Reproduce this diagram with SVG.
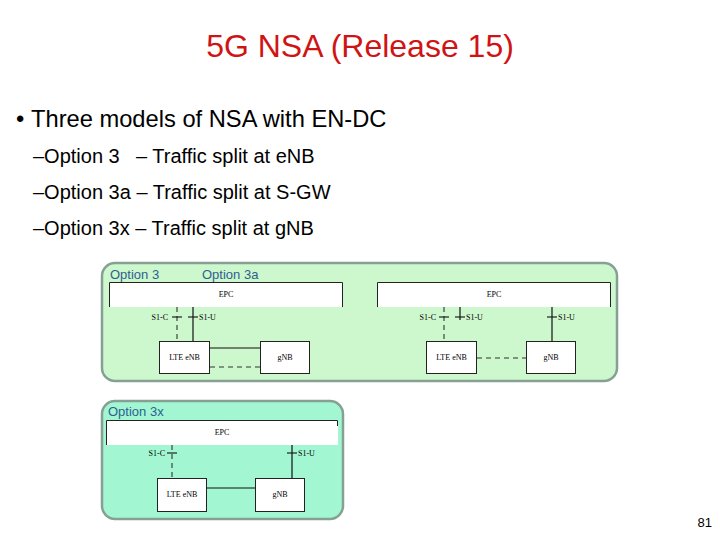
<svg xmlns="http://www.w3.org/2000/svg" width="720" height="540" viewBox="0 0 720 540">
<defs>
<style>
.title{font-family:"Liberation Sans",Arial,sans-serif;font-size:32px;fill:#d01414}
.body{font-family:"Liberation Sans",Arial,sans-serif;fill:#000}
.opt{font-family:"Liberation Sans",Arial,sans-serif;font-size:13px;fill:#2e6190}
.small{font-family:"Liberation Serif","Times New Roman",serif;font-size:8px;fill:#000}
.panelA{fill:#cdf7cd;stroke:#86a094;stroke-width:2.5}
.panelB{fill:#a2f6d2;stroke:#86a094;stroke-width:2.5}
.epc{fill:#fff}
.epcEdge{fill:none;stroke:#222;stroke-width:1}
.box{fill:#fff;stroke:#222;stroke-width:1}
.solid{stroke:#111;stroke-width:1.2;fill:none}
.dash{stroke:#333;stroke-width:1.1;stroke-dasharray:5 4;fill:none}
.tick{stroke:#111;stroke-width:1.1}
</style>
</defs>
<rect width="720" height="540" fill="#fff"/>

<text class="title" x="360" y="57" text-anchor="middle">5G NSA (Release 15)</text>
<text class="body" x="16" y="127" font-size="23.7">•</text>
<text class="body" x="31" y="127" font-size="23.7">Three models of NSA with EN-DC</text>
<text class="body" x="33" y="163" font-size="20">–Option 3<tspan x="136">– Traffic split at eNB</tspan></text>
<text class="body" x="33" y="199" font-size="20">–Option 3a – Traffic split at S-GW</text>
<text class="body" x="33" y="235" font-size="20">–Option 3x – Traffic split at gNB</text>
<text class="body" x="712" y="527" font-size="13" text-anchor="end">81</text>

<g id="panel-option3-3a">
<rect class="panelA" x="102" y="263" width="515" height="118" rx="13"/>
<text class="opt" x="110" y="279">Option 3</text>
<text class="opt" x="202" y="279">Option 3a</text>
</g>
<g id="panel-option3x">
<rect class="panelB" x="102" y="401" width="241" height="118" rx="13"/>
<text class="opt" x="108" y="416">Option 3x</text>
</g>

<g id="epc-1">
<rect class="epc" x="109" y="282" width="234" height="25"/>
<path class="epcEdge" d="M109.5,307 V282.5 H342.5 V307"/>
<text class="small" x="226" y="297" text-anchor="middle">EPC</text>
</g>
<g id="lte-enb-1">
<rect class="box" x="159.5" y="341.5" width="50" height="32"/>
<text class="small" x="184.5" y="360" text-anchor="middle">LTE eNB</text>
</g>
<g id="gnb-1">
<rect class="box" x="260.5" y="341.5" width="49" height="32"/>
<text class="small" x="285" y="360" text-anchor="middle">gNB</text>
</g>

<g id="epc-2">
<rect class="epc" x="377" y="282" width="234" height="25"/>
<path class="epcEdge" d="M377.5,307 V282.5 H610.5 V307"/>
<text class="small" x="494" y="297" text-anchor="middle">EPC</text>
</g>
<g id="lte-enb-2">
<rect class="box" x="426.5" y="341.5" width="50" height="32"/>
<text class="small" x="451.5" y="360" text-anchor="middle">LTE eNB</text>
</g>
<g id="gnb-2">
<rect class="box" x="526.5" y="341.5" width="49" height="32"/>
<text class="small" x="551" y="360" text-anchor="middle">gNB</text>
</g>

<g id="epc-3">
<rect class="epc" x="106" y="420" width="232" height="25"/>
<path class="epcEdge" d="M106.5,445 V420.5 H337.5 V426"/>
<text class="small" x="222" y="435" text-anchor="middle">EPC</text>
</g>
<g id="lte-enb-3">
<rect class="box" x="157.5" y="478.5" width="49" height="33"/>
<text class="small" x="182" y="497" text-anchor="middle">LTE eNB</text>
</g>
<g id="gnb-3">
<rect class="box" x="255.5" y="478.5" width="49" height="33"/>
<text class="small" x="280" y="497" text-anchor="middle">gNB</text>
</g>

<g id="connectors">
<line class="dash" x1="177" y1="307" x2="177" y2="341"/>
<line class="tick" x1="172" y1="317" x2="182" y2="317"/>
<text class="small" x="168" y="319.5" text-anchor="end">S1-C</text>
<line class="solid" x1="193" y1="307" x2="193" y2="341"/>
<line class="tick" x1="188" y1="317" x2="198" y2="317"/>
<text class="small" x="199" y="319.5">S1-U</text>
<line class="solid" x1="210" y1="348" x2="260" y2="348"/>
<line class="dash" x1="210" y1="367" x2="260" y2="367"/>
<line class="dash" x1="444" y1="307" x2="444" y2="341"/>
<line class="tick" x1="439" y1="317" x2="449" y2="317"/>
<text class="small" x="436" y="319.5" text-anchor="end">S1-C</text>
<line class="solid" x1="460" y1="307" x2="460" y2="320"/>
<line class="tick" x1="455" y1="317" x2="465" y2="317"/>
<text class="small" x="466" y="319.5">S1-U</text>
<line class="solid" x1="552" y1="307" x2="552" y2="341"/>
<line class="tick" x1="547" y1="317" x2="557" y2="317"/>
<text class="small" x="558" y="319.5">S1-U</text>
<line class="dash" x1="477" y1="358" x2="526" y2="358"/>
<line class="dash" x1="172" y1="445" x2="172" y2="478"/>
<line class="tick" x1="167" y1="453" x2="177" y2="453"/>
<text class="small" x="165" y="455.5" text-anchor="end">S1-C</text>
<line class="solid" x1="292" y1="445" x2="292" y2="478"/>
<line class="tick" x1="287" y1="453" x2="297" y2="453"/>
<text class="small" x="298" y="455.5">S1-U</text>
<line class="solid" x1="207" y1="488" x2="255" y2="488"/>
</g>
</svg>
